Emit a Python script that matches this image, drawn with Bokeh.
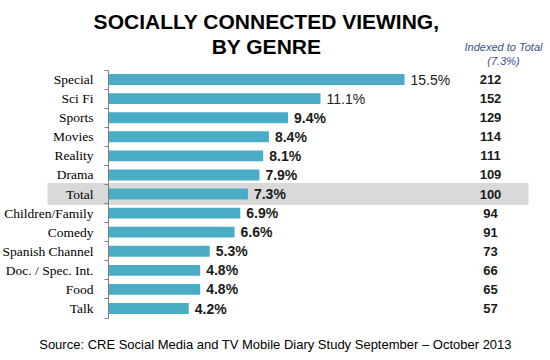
from bokeh.plotting import figure
from bokeh.models import (Range1d, LinearAxis, FixedTicker, Label, ColumnDataSource,
                          CDSView, IndexFilter)
from bokeh.embed import file_html
from bokeh.resources import INLINE
from bokeh.core.properties import value

# ---- data ----
genres = ["Special", "Sci Fi", "Sports", "Movies", "Reality", "Drama", "Total",
          "Children/Family", "Comedy", "Spanish Channel", "Doc. / Spec. Int.", "Food", "Talk"]
shares = [15.5, 11.1, 9.4, 8.4, 8.1, 7.9, 7.3, 6.9, 6.6, 5.3, 4.8, 4.8, 4.2]
index_vals = [212, 152, 129, 114, 111, 109, 100, 94, 91, 73, 66, 65, 57]
highlight = "Total"

n = len(genres)
ypos = [n - 1 - i for i in range(n)]
src = ColumnDataSource(dict(
    genre=genres, share=shares, y=ypos,
    share_label=[f"{v:.1f}%" for v in shares],
    idx=[str(v) for v in index_vals],
))

# ---- layout constants ----
W, H = 550, 360
PPU = 19.1      # px per x unit
PITCH = 19.08   # px per row
X0, Y0 = 108, 308  # pixel of x=0 and of bottom row

def px(page_x):
    return (page_x - X0) / PPU

def py(page_y):
    return (Y0 - page_y) / PITCH

p = figure(width=W, height=H, x_range=Range1d(px(0), px(W)), y_range=Range1d(py(H), py(0)),
           x_axis_type=None, y_axis_type=None, toolbar_location=None, output_backend="svg",
           min_border=0, outline_line_color=None)
p.background_fill_color = "white"

# highlight band for Total row
hi = genres.index(highlight)
p.hbar(y=[ypos[hi]], left=px(47), right=px(528), height=1.15, color="#d9d9d9", line_color=None)

# bars
p.hbar(y="y", left=0, right="share", height=0.57, source=src,
       fill_color="#4bacc6", line_color=None)

# value labels
p.text(x="share", y="y", text="share_label", source=src, view=CDSView(filter=IndexFilter([0, 1])),
       x_offset=6, text_align="left", text_baseline="middle",
       text_font=value("Liberation Sans"), text_font_size="14px", text_color="#1a1a1a")
p.text(x="share", y="y", text="share_label", source=src,
       view=CDSView(filter=IndexFilter(list(range(2, n)))),
       x_offset=6, text_align="left", text_baseline="middle",
       text_font=value("Liberation Sans"), text_font_size="14px", text_font_style="bold",
       text_color="#1a1a1a")

# index column
p.text(x=px(490), y="y", text="idx", source=src, text_align="center", text_baseline="middle",
       text_font=value("Liberation Sans"), text_font_size="13px", text_font_style="bold",
       text_color="#1a1a1a")

# category axis at x=0
yaxis = LinearAxis(fixed_location=0, bounds=(-0.5, n - 0.5),
                   ticker=FixedTicker(ticks=ypos, minor_ticks=[k - 0.5 for k in range(n + 1)]),
                   major_label_overrides={y: g for y, g in zip(ypos, genres)})
yaxis.major_tick_out = 0
yaxis.major_tick_in = 0
yaxis.minor_tick_out = 4
yaxis.minor_tick_in = 0
yaxis.minor_tick_line_color = "#7f7f7f"
yaxis.axis_line_color = "#7f7f7f"
yaxis.major_label_standoff = 11
yaxis.major_label_text_font = "Liberation Serif"
yaxis.major_label_text_font_size = "13.5px"
yaxis.major_label_text_color = "black"
p.add_layout(yaxis, "left")

# titles & notes
title_style = dict(text_font="Liberation Sans", text_font_size="21px", text_font_style="bold",
                   text_align="center", text_baseline="middle", text_color="black")
p.add_layout(Label(x=px(266), y=py(21), text="SOCIALLY CONNECTED VIEWING,", **title_style))
p.add_layout(Label(x=px(266), y=py(46), text="BY GENRE", **title_style))

hdr_style = dict(text_font="Liberation Sans", text_font_size="11px", text_font_style="italic",
                 text_align="center", text_baseline="middle", text_color="#3a4d8f")
p.add_layout(Label(x=px(503), y=py(46), text="Indexed to Total", **hdr_style))
p.add_layout(Label(x=px(503), y=py(60), text="(7.3%)", **hdr_style))

p.add_layout(Label(x=px(275), y=py(344), text="Source: CRE Social Media and TV Mobile Diary Study September \u2013 October 2013",
                   text_font="Liberation Sans", text_font_size="13px", text_align="center",
                   text_baseline="middle", text_color="black"))

open("out.html", "w").write(file_html(p, INLINE))
